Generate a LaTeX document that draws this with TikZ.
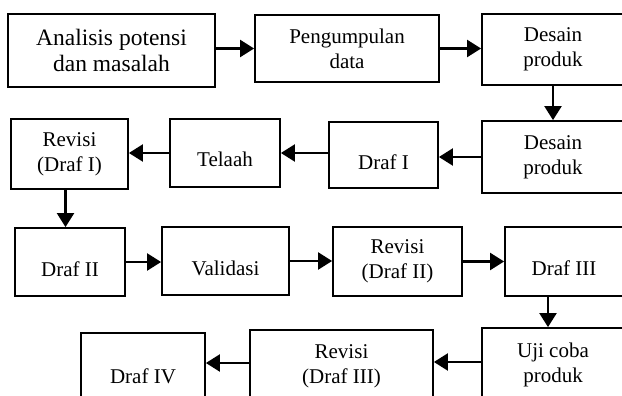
\documentclass[tikz,border=0pt]{standalone}
\usepackage{fontspec}
\setmainfont{Liberation Serif}
\usetikzlibrary{arrows.meta}

\tikzset{
  kotak/.style={draw, line width=1.8pt, align=center, inner sep=2pt,
    font=\fontsize{21}{25}\selectfont},
  satu/.style={kotak, text height=28pt, text depth=0pt},
  panah/.style={line width=2.2pt, -{Triangle[length=14pt,width=17pt]}}
}

\begin{document}
\begin{tikzpicture}[x=1pt, y=-1pt]
                \useasboundingbox (0,0) rectangle (622,396);

                % baris pertama
                \node[kotak, minimum width=207pt, minimum height=73pt, font=\fontsize{23.5}{26}\selectfont] (analisis) at (111.5,50.5) {Analisis potensi\\dan masalah};
                \node[kotak, minimum width=184pt, minimum height=67pt] (kumpul) at (347,48.5) {Pengumpulan\\data};
                \node[kotak, minimum width=142pt, minimum height=71pt] (desainA) at (553,49.5) {Desain\\produk};

                % baris kedua
                \node[kotak, minimum width=142pt, minimum height=72pt] (desainB) at (553,157) {Desain\\produk};
                \node[satu, minimum width=109pt, minimum height=66pt] (drafI) at (383.5,155) {Draf I};
                \node[satu, minimum width=110pt, minimum height=68pt] (telaah) at (225,153) {Telaah};
                \node[kotak, minimum width=117pt, minimum height=70pt] (revI) at (69.5,154) {Revisi\\(Draf I)};

                % baris ketiga
                \node[satu, minimum width=110pt, minimum height=68pt] (drafII) at (70,262) {Draf II};
                \node[satu, minimum width=127pt, minimum height=68pt] (validasi) at (225.5,261) {Validasi};
                \node[kotak, minimum width=129pt, minimum height=69pt] (revII) at (397.5,261.5) {Revisi\\(Draf II)};
                \node[satu, minimum width=118pt, minimum height=69pt] (drafIII) at (564,261.5) {Draf III};

                % baris keempat
                \node[kotak, minimum width=142pt, minimum height=74pt] (uji) at (553,365) {Uji coba\\produk};
                \node[kotak, minimum width=183pt, minimum height=72pt] (revIII) at (341.5,366) {Revisi\\(Draf III)};
                \node[satu, minimum width=124pt, minimum height=73pt] (drafIV) at (143,369.5) {Draf IV};

                \draw[panah] (kumpul.west -| analisis.east) -- (kumpul.west);
                \draw[panah] (kumpul.east) -- (kumpul.east -| desainA.west);
                \draw[panah] (desainA) -- (desainB);
                \draw[panah] (desainB.west) -- (desainB.west -| drafI.east);
                \draw[panah] (telaah.east -| drafI.west) -- (telaah.east);
                \draw[panah] (telaah.west) -- (telaah.west -| revI.east);
                \draw[panah] ([xshift=-4pt]revI.south) -- ([xshift=-4pt]revI.south |- drafII.north);
                \draw[panah] (drafII.east) -- (drafII.east -| validasi.west);
                \draw[panah] (validasi.east) -- (validasi.east -| revII.west);
                \draw[panah] (revII.east) -- (revII.east -| drafIII.west);
                \draw[panah] ([xshift=-5pt]uji.north |- drafIII.south) -- ([xshift=-5pt]uji.north);
                \draw[panah] ([yshift=3pt]uji.west) -- ([yshift=3pt]uji.west -| revIII.east);
                \draw[panah] ([yshift=3pt]revIII.west) -- ([yshift=3pt]revIII.west -| drafIV.east);
\end{tikzpicture}
\end{document}
